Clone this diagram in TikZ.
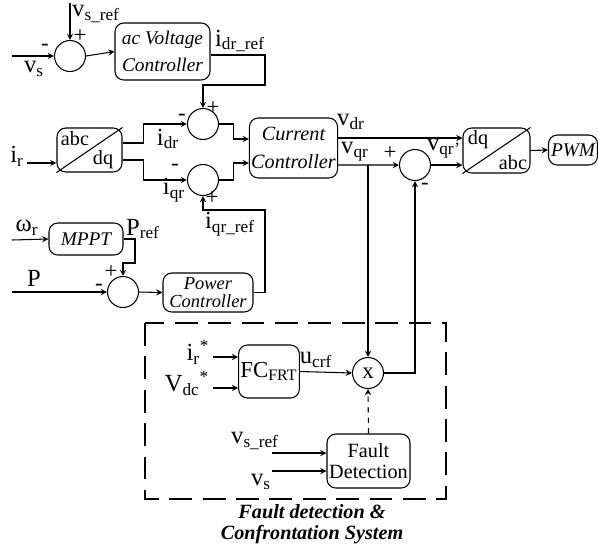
\documentclass[tikz,border=0pt]{standalone}
\usepackage{fontspec}
\setmainfont{Liberation Serif}

\begin{document}
\begin{tikzpicture}[
    x=0.02cm, y=-0.02cm,
    >=stealth,
    line width=0.6pt,
    block_box/.style={draw, rounded corners=5pt, inner sep=1pt, align=center, font=\fontsize{11}{13}\selectfont\itshape},
    sum_node/.style={draw, circle, minimum size=0.62cm, inner sep=0pt},
    sig_label/.style={inner sep=0pt, font=\fontsize{14}{16}\selectfont},
    sign_label/.style={inner sep=0pt, font=\fontsize{13}{14}\selectfont},
    frame_line/.style={line width=1.6pt, dash pattern=on 13pt off 6pt},
    caption_style/.style={inner sep=0pt, font=\fontsize{11.5}{14}\selectfont\bfseries\itshape}
]
\useasboundingbox (0,0) rectangle (598,549);

% Blocks
\node[block_box, minimum width=1.9cm, minimum height=1.14cm] (acv) at (162.5,51.5) {ac Voltage\\[2pt]Controller};
\node[block_box, minimum width=1.3cm, minimum height=0.88cm] (abcdq) at (89.5,150) {};
\node[block_box, minimum width=1.74cm, minimum height=1.2cm, font=\fontsize{11.5}{16}\selectfont\itshape] (cc) at (293.5,148) {Current\\Controller};
\node[block_box, minimum width=1.34cm, minimum height=0.9cm] (dqabc) at (496.5,150.5) {};
\node[block_box, minimum width=0.98cm, minimum height=0.6cm] (pwm) at (573,150) {PWM};
\node[block_box, minimum width=1.48cm, minimum height=0.64cm] (mppt) at (86,239) {MPPT};
\node[block_box, minimum width=1.8cm, minimum height=0.78cm, font=\fontsize{10.5}{10}\selectfont\itshape] (pc) at (208,292.5) {Power\\Controller};
\node[block_box, minimum width=1.16cm, minimum height=1.06cm, font=\fontsize{13}{14}\selectfont] (fc) at (269,371.5) {FC\textsubscript{FRT}};
\node[block_box, minimum width=1.66cm, minimum height=1.08cm, font=\fontsize{11.5}{11.5}\selectfont] (fd) at (368.5,461) {Fault\\Detection};

% Diagonals of the transformation blocks
\draw (abcdq.south west) -- (abcdq.north east);
\draw (dqabc.south west) -- (dqabc.north east);
\node[sig_label, font=\fontsize{11.5}{13}\selectfont] (t_abc1) at (75,139) {abc};
\node[sig_label, font=\fontsize{11.5}{13}\selectfont] (t_dq1) at (103,160) {dq};
\node[sig_label, font=\fontsize{11.5}{13}\selectfont] (t_dq2) at (478,140) {dq};
\node[sig_label, font=\fontsize{11.5}{13}\selectfont] (t_abc2) at (513,163) {abc};

% Summing junctions
\node[sum_node] (s1) at (70,56) {};
\node[sum_node] (s2) at (203,124) {};
\node[sum_node] (s3) at (203,180) {};
\node[sum_node] (s4) at (415,165) {};
\node[sum_node] (s5) at (123,292) {};
\node[sum_node, font=\fontsize{13}{14}\selectfont] (mult) at (368,373) {x};

% Free ends
\coordinate (vsr_in) at (70,3);
\coordinate (vs_in) at (12,56);
\coordinate (ir_in) at (27,163);
\coordinate (wr_in) at (12,240);
\coordinate (p_in) at (12,292);
\coordinate (k1) at (265,85);
\coordinate (k2) at (265,210);
\coordinate (k3) at (135,263);
\coordinate (irs_in) at (213,357);
\coordinate (vdc_in) at (213,388);
\coordinate (fvsr_in) at (272,453);
\coordinate (fvs_in) at (272,471);
\coordinate (vd) at ([yshift=0.2cm]cc.east);
\coordinate (vq) at ([yshift=-0.34cm]cc.east);

% Voltage loop
\draw[->] (vsr_in) -- (s1.north);
\draw[->] (vs_in) -- (s1.west);
\draw[->] (s1.east) -- (acv.west);
\draw[->] ([yshift=-0.07cm]acv.east) -| (k1) -| (s2.north);

% Current loop
\draw[->] (ir_in) -- (ir_in -| abcdq.west);
\draw[->] ([yshift=0.14cm]abcdq.east) -- ++(21,0) |- (s2.west);
\draw[->] ([yshift=-0.2cm]abcdq.east) -- ++(21,0) |- (s3.west);
\draw[->] (s2.east) -- ++(14,0) |- ([yshift=0.18cm]cc.west);
\draw[->] (s3.east) -- ++(14,0) |- ([yshift=-0.3cm]cc.west);
\draw[->] (vd) -- (vd -| dqabc.west);
\draw[->] (vq) -- (s4.west);
\draw[->] (s4.east) -- (s4.east -| dqabc.west);
\draw[->] (dqabc.east) -- (pwm.west);

% Power loop
\draw[->] (wr_in) -- (mppt.west);
\draw[->] (mppt.east) -| (k3) -| (s5.north);
\draw[->] (p_in) -- (s5.west);
\draw[->] (s5.east) -- (pc.west);
\draw[->] (pc.east) -| (k2) -| (s3.south);

% Fault detection & confrontation
\draw[->] (vq -| mult.north) -- (mult.north);
\draw[->] (mult.east) -| (s4.south);
\draw[->] (irs_in) -- (irs_in -| fc.west);
\draw[->] (vdc_in) -- (vdc_in -| fc.west);
\draw[->] (fc.east) -- (mult.west);
\draw[->, dashed] (fd.north) -- (mult.south);
\draw[->] (fvsr_in) -- (fvsr_in -| fd.west);
\draw[->] (fvs_in) -- (fvs_in -| fd.west);
\draw[frame_line] (145,323) rectangle (446,499);

% Signal labels
\node[sig_label] (l_vsref) at (96,14) {v\textsubscript{s\_ref}};
\node[sig_label] (l_vs) at (34,69) {v\textsubscript{s}};
\node[sig_label] (l_idrref) at (240,41) {i\textsubscript{dr\_ref}};
\node[sig_label] (l_ir) at (17,156) {i\textsubscript{r}};
\node[sig_label] (l_idr) at (168,139) {i\textsubscript{dr}};
\node[sig_label] (l_iqr) at (174,190) {i\textsubscript{qr}};
\node[sig_label] (l_iqrref) at (230,224) {i\textsubscript{qr\_ref}};
\node[sig_label] (l_vdr) at (351,122) {v\textsubscript{dr}};
\node[sig_label] (l_vqr) at (355,152) {v\textsubscript{qr}};
\node[sig_label] (l_vqrp) at (444,149) {v\textsubscript{qr'}};
\node[sig_label] (l_wr) at (27,228) {ω\textsubscript{r}};
\node[sig_label] (l_pref) at (143,229) {P\textsubscript{ref}};
\node[sig_label] (l_p) at (34,278) {P};
\node[sig_label] (l_irs) at (198,352) {i\textsubscript{r}\textsuperscript{*}};
\node[sig_label] (l_vdc) at (187,383) {V\textsubscript{dc}\textsuperscript{*}};
\node[sig_label] (l_ucrf) at (316,360) {u\textsubscript{crf}};
\node[sig_label] (l_fvsref) at (255,441) {v\textsubscript{s\_ref}};
\node[sig_label] (l_fvs) at (261,482) {v\textsubscript{s}};

% Signs
\node[sign_label] (g1) at (80,36) {+};
\node[sign_label] (g2) at (45,47) {-};
\node[sign_label] (g3) at (213,108) {+};
\node[sign_label] (g4) at (182,117) {-};
\node[sign_label] (g5) at (175,167) {-};
\node[sign_label] (g6) at (212,198) {+};
\node[sign_label] (g7) at (390,153) {+};
\node[sign_label] (g8) at (425,186) {-};
\node[sign_label] (g9) at (111,272) {+};
\node[sign_label] (g10) at (99,287) {-};

% Caption
\node[caption_style] (cap1) at (312,512) {Fault detection \&};
\node[caption_style] (cap2) at (312,535) {Confrontation System};

\end{tikzpicture}
\end{document}
